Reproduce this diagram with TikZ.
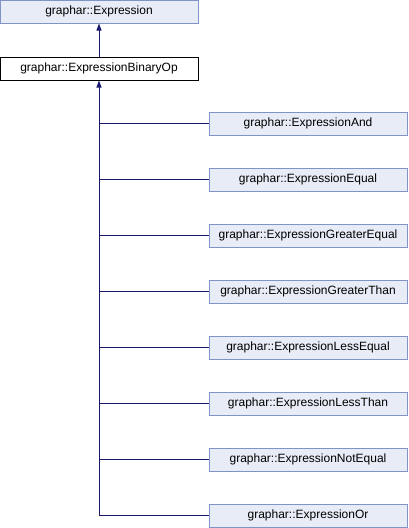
\documentclass[tikz,border=0pt]{standalone}
\usepackage{fontspec}
\setmainfont{Liberation Sans}
\usetikzlibrary{arrows.meta}
\definecolor{boxfill}{HTML}{E8ECF6}
\definecolor{boxedge}{HTML}{7F95C8}
\definecolor{edgeblue}{HTML}{191970}
\tikzset{
  classbox/.style={draw=boxedge, fill=boxfill, line width=1pt, minimum width=198pt, minimum height=23pt, inner sep=0pt, font=\fontsize{12}{14}\selectfont},
  curbox/.style={classbox, draw=black, fill=white},
  inherit/.style={draw=edgeblue, line width=1pt, -{Triangle[length=7pt,width=5pt]}},
  branch/.style={draw=edgeblue, line width=1pt}
}
\begin{document}
\begin{tikzpicture}[x=1pt,y=-1pt]
\useasboundingbox (0,0) rectangle (408,528);
\node[classbox] (expr) at (99,11.5) {graphar::Expression};
\node[curbox] (binop) at (99,68.5) {graphar::ExpressionBinaryOp};
\node[classbox] (and) at (308,123.5) {graphar::ExpressionAnd};
\node[classbox] (equal) at (308,179.5) {graphar::ExpressionEqual};
\node[classbox] (ge) at (308,235.5) {graphar::ExpressionGreaterEqual};
\node[classbox] (gt) at (308,291.5) {graphar::ExpressionGreaterThan};
\node[classbox] (le) at (308,347.5) {graphar::ExpressionLessEqual};
\node[classbox] (lt) at (308,403.5) {graphar::ExpressionLessThan};
\node[classbox] (ne) at (308,459.5) {graphar::ExpressionNotEqual};
\node[classbox] (or) at (308,515.5) {graphar::ExpressionOr};
\draw[inherit] (binop) -- (expr);
\coordinate (trunkend) at (binop.south |- or.west);
\draw[inherit] (trunkend) -- (binop.south);
\foreach \c in {and,equal,ge,gt,le,lt,ne,or}{
  \draw[branch] (\c.west) -- (\c.west -| binop.south);
}
\end{tikzpicture}
\end{document}
